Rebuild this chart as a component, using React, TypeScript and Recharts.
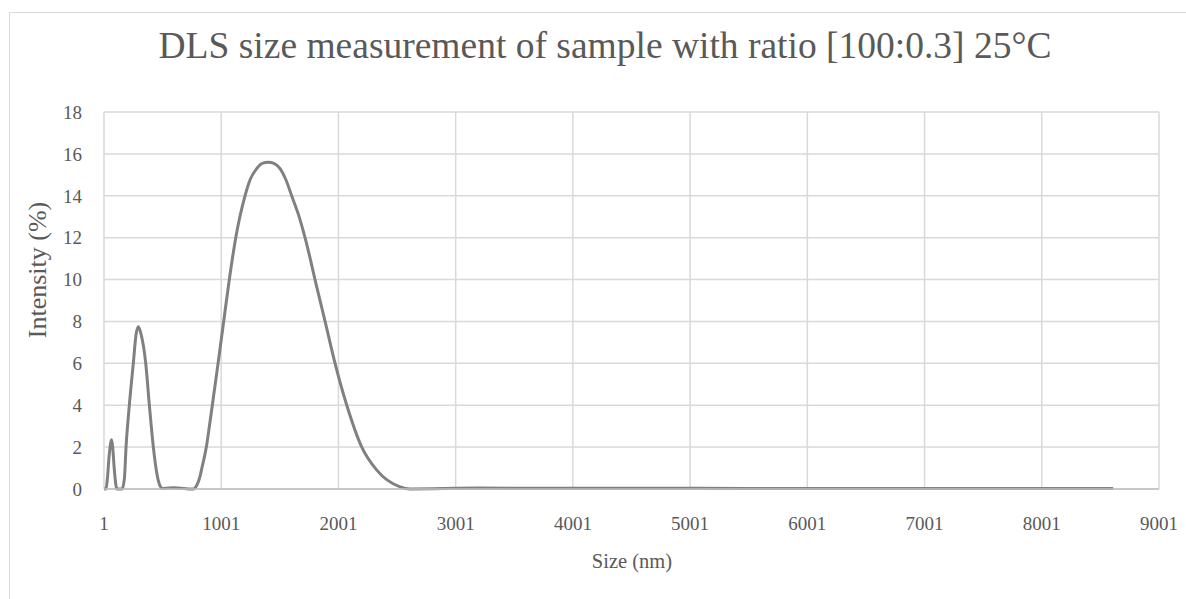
import { LineChart, Line, XAxis, YAxis, CartesianGrid } from 'recharts'

// size (nm) and intensity (%)
const sizes = [
  1, 18, 30, 45, 58, 66, 75, 88, 100, 110,
  155, 175, 189, 217, 251, 275, 294, 312, 357, 388, 422, 450, 475, 500, 540, 600, 660, 720,
  763, 790, 815, 840, 860, 877, 900, 925, 974, 1022, 1070, 1125, 1204, 1250, 1304, 1350, 1403,
  1450, 1503, 1550, 1602, 1660, 1716, 1760, 1801, 1887, 1972, 2072, 2200, 2328, 2527, 2612,
  2800, 3000, 3200, 3500, 4000, 5000, 6000, 7000, 8000, 8610,
]
const intensity = [
  0, 0, 0.5, 1.6, 2.2, 2.35, 2.0, 1.0, 0.3, 0,
  0, 0.5, 2.0, 4.0, 6.0, 7.4, 7.75, 7.5, 6.0, 4.0, 2.0, 0.8, 0.2, 0.02, 0.04, 0.06, 0.04, 0,
  0, 0.15, 0.5, 1.1, 1.6, 2.1, 3.0, 4.0, 6.0, 8.0, 10.0, 12.0, 14.0, 14.8, 15.3, 15.55, 15.6,
  15.55, 15.3, 14.8, 14.0, 13.1, 12.0, 11.0, 10.0, 8.0, 6.0, 4.0, 2.0, 0.9, 0.1, 0,
  0.01, 0.04, 0.05, 0.04, 0.03, 0.03, 0.02, 0.02, 0.02, 0.02,
]
const xTicks = [1, 1001, 2001, 3001, 4001, 5001, 6001, 7001, 8001, 9001]
const yTicks = [0, 2, 4, 6, 8, 10, 12, 14, 16, 18]

const data = sizes.map((s, i) => ({ size: s, intensity: intensity[i] }))

const font = '"Liberation Serif", "Times New Roman", serif'
const textColor = '#595959'

export default function App() {
  return (
    <div style={{ position: 'absolute', left: 0, top: 0, width: 1186, height: 599, background: '#fff', fontFamily: font, overflow: 'hidden' }}>
      <div style={{ position: 'absolute', left: 9, top: 12, width: 1300, height: 700, border: '1px solid #d9d9d9' }} />
      <div style={{ position: 'absolute', left: 0, top: 24, width: 1210, textAlign: 'center', fontSize: 37.5, color: textColor, whiteSpace: 'nowrap' }}>
        DLS size measurement of sample with ratio [100:0.3] 25°C
      </div>
      <div style={{ position: 'absolute', left: 38, top: 270, transform: 'translate(-50%, -50%) rotate(-90deg)', fontSize: 26, color: textColor, whiteSpace: 'nowrap' }}>
        Intensity (%)
      </div>
      <div style={{ position: 'absolute', left: 632, top: 561, transform: 'translate(-50%, -50%)', fontSize: 20.5, color: textColor, whiteSpace: 'nowrap' }}>
        Size (nm)
      </div>
      <LineChart width={1186} height={599} data={data} margin={{ top: 112, right: 27, left: 44, bottom: 80 }} style={{ position: 'absolute', left: 0, top: 0 }}>
        <CartesianGrid stroke="#d9d9d9" strokeWidth={1.5} />
        <XAxis
          dataKey="size"
          type="number"
          domain={[1, 9001]}
          ticks={xTicks}
          tickLine={false}
          axisLine={{ stroke: '#bfbfbf', strokeWidth: 1.5 }}
          tickMargin={22}
          tick={{ fill: textColor, fontSize: 19, fontFamily: font }}
          interval={0}
        />
        <YAxis
          type="number"
          domain={[0, 18]}
          ticks={yTicks}
          width={60}
          tickLine={false}
          axisLine={false}
          tickMargin={16}
          tick={{ fill: textColor, fontSize: 19, fontFamily: font }}
          interval={0}
        />
        <Line
          type="monotone"
          dataKey="intensity"
          stroke="#808080"
          strokeWidth={3}
          dot={false}
          isAnimationActive={false}
        />
      </LineChart>
    </div>
  )
}
